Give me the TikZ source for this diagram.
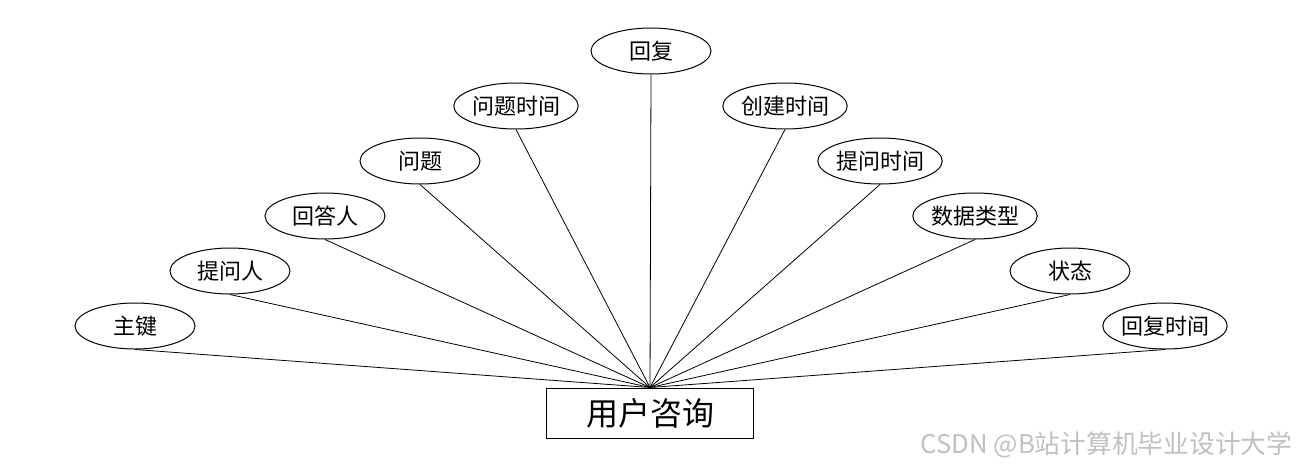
\documentclass[tikz,border=0pt]{standalone}
\usepackage{fontspec}
\setmainfont{Noto Sans CJK SC}
\usetikzlibrary{shapes.geometric}
\definecolor{mark}{HTML}{C0C0C0}

\begin{document}
\begin{tikzpicture}[
    x=0.75pt, y=-0.75pt,
    attr/.style={ellipse, draw, line width=0.75pt, minimum width=90pt, minimum height=34.5pt, inner sep=0pt, font=\fontsize{16.5}{18}\selectfont},
    entity/.style={rectangle, draw, line width=0.75pt, minimum width=155pt, minimum height=37.5pt, inner sep=0pt, font=\fontsize{24}{28}\selectfont},
    link/.style={black, line width=0.6pt}
  ]
    \useasboundingbox (0,0) rectangle (1300,468);

    \node[entity] (ent) at (650, 413) {用户咨询};

    % left side
    \node[attr] (a1) at (135, 326) {主键};
    \node[attr] (a2) at (230, 271) {提问人};
    \node[attr] (a3) at (325, 216) {回答人};
    \node[attr] (a4) at (420, 161) {问题};
    \node[attr] (a5) at (516, 106) {问题时间};

    % top
    \node[attr] (a6) at (651, 51) {回复};

    % right side
    \node[attr] (a7) at (785, 106) {创建时间};
    \node[attr] (a8) at (880, 161) {提问时间};
    \node[attr] (a9) at (975, 216) {数据类型};
    \node[attr] (a10) at (1070, 271) {状态};
    \node[attr] (a11) at (1165, 326) {回复时间};

    % connecting lines
    \foreach \i in {1,...,11}
      \draw[link] (a\i.south) -- (ent.north);

    \node[anchor=east, text=mark, font=\fontsize{19.3}{22}\selectfont] (wm) at (1297, 445) {CSDN @B站计算机毕业设计大学};
  \end{tikzpicture}
\end{document}
